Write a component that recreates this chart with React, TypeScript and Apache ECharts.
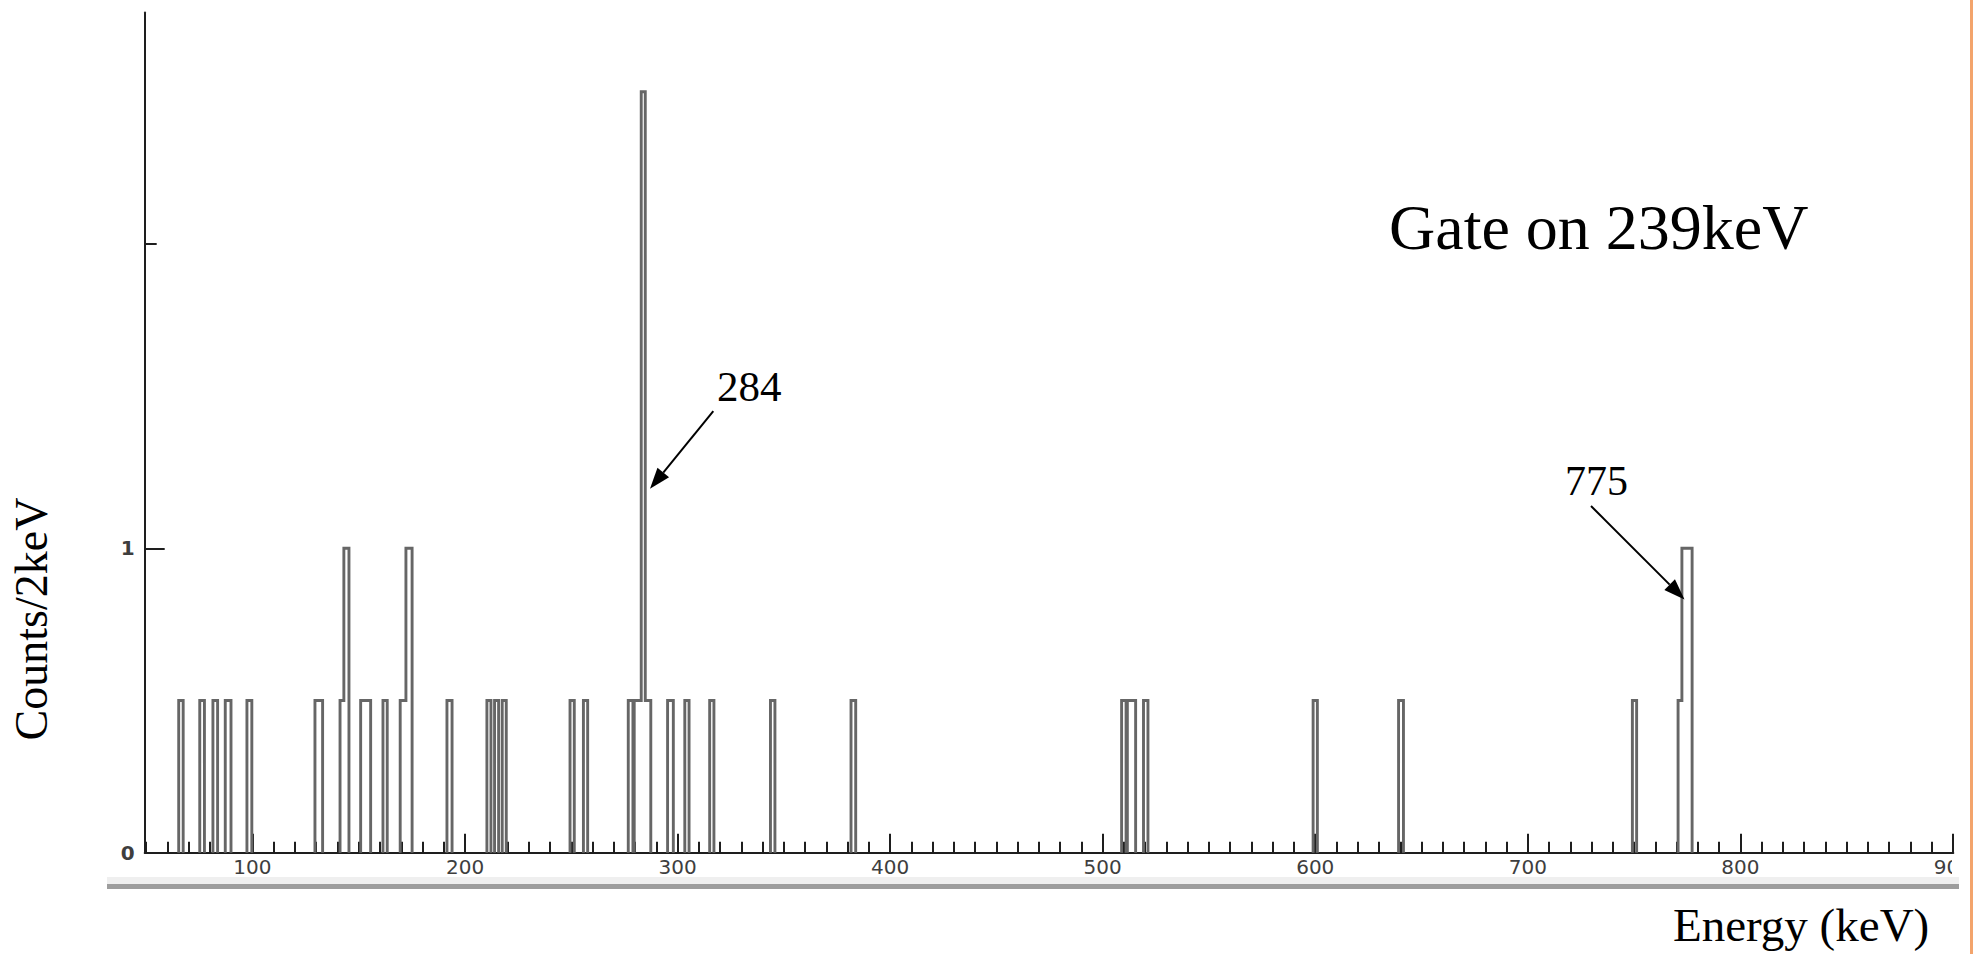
import React, { useEffect, useRef } from "react";
import * as echarts from "echarts";

// Gated gamma-ray coincidence spectrum (gate on 239 keV).
// Each channel group: lower edge (keV), upper edge (keV), height in Counts/2keV units.
const segLo = [
  65.3, 75.2, 81.4, 87.2, 97.4, 129.4, 141.2, 143.0, 150.9, 161.4, 169.5, 172.2,
  191.5, 210.3, 213.9, 217.5, 249.4, 255.7, 276.8, 279.6, 282.9, 284.8, 295.3,
  303.4, 315.1, 343.7, 381.6, 508.9, 511.6, 519.2, 599.0, 639.2, 749.2, 770.7, 772.5,
];
const segHi = [
  67.4, 77.4, 83.6, 89.9, 99.7, 133.0, 143.0, 145.4, 155.6, 163.4, 172.2, 175.1,
  193.9, 212.2, 215.8, 219.4, 251.4, 257.7, 279.0, 282.9, 284.8, 287.4, 298.0,
  305.4, 317.1, 345.8, 383.8, 511.0, 515.5, 521.3, 601.0, 641.5, 751.2, 772.5, 777.3,
];
const segLevel = [
  0.5, 0.5, 0.5, 0.5, 0.5, 0.5, 0.5, 1, 0.5, 0.5, 0.5, 1,
  0.5, 0.5, 0.5, 0.5, 0.5, 0.5, 0.5, 0.5, 2.5, 0.5, 0.5,
  0.5, 0.5, 0.5, 0.5, 0.5, 0.5, 0.5, 0.5, 0.5, 0.5, 0.5, 1,
];

// Axis ranges and ticks
const X_MIN = 49.3;
const X_MAX = 900.2;
const Y_MAX = 2.76;
const majorTicks = [100, 200, 300, 400, 500, 600, 700, 800, 900];
const minorTicks = [
  50, 60, 70, 80, 90, 110, 120, 130, 140, 150, 160, 170, 180, 190, 210, 220, 230, 240,
  250, 260, 270, 280, 290, 310, 320, 330, 340, 350, 360, 370, 380, 390, 410, 420, 430,
  440, 450, 460, 470, 480, 490, 510, 520, 530, 540, 550, 560, 570, 580, 590, 610, 620,
  630, 640, 650, 660, 670, 680, 690, 710, 720, 730, 740, 750, 760, 770, 780, 790, 810,
  820, 830, 840, 850, 860, 870, 880, 890,
];
const yLabelValues = [0, 1];
const yMajorTick = [1];
const yMinorTick = [2];

const SERIF = '"Liberation Serif", "Times New Roman", serif';
const SANS = '"DejaVu Sans", Verdana, sans-serif';

// Histogram outline: step up at each lower edge, across, and back down;
// neighbouring groups that share an edge are joined by a single vertical step.
function buildOutline() {
  const pts: any[] = [];
  for (let i = 0; i < segLo.length; i++) {
    const joined = i > 0 && Math.abs(segLo[i] - segHi[i - 1]) < 1e-6;
    if (!joined) {
      if (i > 0) {
        pts.push([segHi[i - 1], 0]);
        pts.push(["-", "-"]);
      }
      pts.push([segLo[i], 0]);
    }
    pts.push([segLo[i], segLevel[i]]);
    pts.push([segHi[i], segLevel[i]]);
  }
  pts.push([segHi[segHi.length - 1], 0]);
  return pts;
}

function arrow(x1: number, y1: number, x2: number, y2: number, head = 21, half = 7.5) {
  const dx = x2 - x1;
  const dy = y2 - y1;
  const len = Math.hypot(dx, dy);
  const ux = dx / len;
  const uy = dy / len;
  const bx = x2 - ux * head;
  const by = y2 - uy * head;
  return [
    {
      type: "line",
      z: 100,
      shape: { x1, y1, x2: bx, y2: by },
      style: { stroke: "#000", lineWidth: 2 },
    },
    {
      type: "polygon",
      z: 100,
      shape: {
        points: [
          [x2, y2],
          [bx - uy * half, by + ux * half],
          [bx + uy * half, by - ux * half],
        ],
      },
      style: { fill: "#000" },
    },
  ];
}

function label(text: string, x: number, y: number, size: number, extra: any = {}) {
  return {
    type: "text",
    z: 100,
    x,
    y,
    ...extra,
    style: {
      text,
      font: `${size}px ${SERIF}`,
      fill: "#000",
      align: extra.align || "left",
      verticalAlign: "middle",
    },
  };
}

export default function App() {
  const ref = useRef<HTMLDivElement>(null);

  useEffect(() => {
    if (!ref.current) return;
    const chart = echarts.init(ref.current, null, { renderer: "svg" });
    const axisColor = "#1e1e1e";
    const tickLabel = { color: "#3e3e3e", fontSize: 20, fontFamily: SANS };

    chart.setOption({
      animation: false,
      backgroundColor: "#ffffff",
      grid: { left: 144.7, top: 12.6, width: 1813.3, height: 840.1, containLabel: false },
      xAxis: [
        {
          type: "value",
          min: X_MIN,
          max: X_MAX,
          position: "bottom",
          axisLine: { show: true, onZero: false, lineStyle: { color: axisColor, width: 2 } },
          axisTick: {
            show: true,
            inside: true,
            length: 11,
            customValues: minorTicks,
            lineStyle: { color: axisColor, width: 2 },
          },
          axisLabel: { show: false },
          splitLine: { show: false },
        },
        {
          type: "value",
          min: X_MIN,
          max: X_MAX,
          position: "bottom",
          axisLine: { show: false },
          axisTick: {
            show: true,
            inside: true,
            length: 19,
            customValues: majorTicks,
            lineStyle: { color: axisColor, width: 2 },
          },
          axisLabel: { show: true, customValues: majorTicks, margin: 4, ...tickLabel },
          splitLine: { show: false },
        },
      ],
      yAxis: [
        {
          type: "value",
          min: 0,
          max: Y_MAX,
          position: "left",
          axisLine: { show: true, onZero: false, lineStyle: { color: axisColor, width: 2 } },
          axisTick: {
            show: true,
            inside: true,
            length: 20,
            customValues: yMajorTick,
            lineStyle: { color: axisColor, width: 2 },
          },
          axisLabel: {
            show: true,
            customValues: yLabelValues,
            margin: 10,
            fontWeight: "bold",
            ...tickLabel,
          },
          splitLine: { show: false },
        },
        {
          type: "value",
          min: 0,
          max: Y_MAX,
          position: "left",
          axisLine: { show: false },
          axisTick: {
            show: true,
            inside: true,
            length: 12,
            customValues: yMinorTick,
            lineStyle: { color: axisColor, width: 2 },
          },
          axisLabel: { show: false },
          splitLine: { show: false },
        },
      ],
      series: [
        {
          type: "line",
          xAxisIndex: 0,
          yAxisIndex: 0,
          data: buildOutline(),
          showSymbol: false,
          symbol: "none",
          connectNulls: false,
          lineStyle: { color: "#666666", width: 2.9, join: "miter" },
          z: 3,
        },
      ],
      graphic: [
        // frame strip under the tick labels
        { type: "rect", z: 90, shape: { x: 107, y: 877, width: 1852, height: 7 }, style: { fill: "#efefef" } },
        { type: "rect", z: 90, shape: { x: 107, y: 884, width: 1852, height: 5 }, style: { fill: "#9d9d9d" } },
        { type: "rect", z: 95, shape: { x: 1952, y: 855, width: 23, height: 21 }, style: { fill: "#ffffff" } },
        { type: "rect", z: 95, shape: { x: 1959, y: 855, width: 16, height: 40 }, style: { fill: "#ffffff" } },
        {
          type: "line",
          z: 96,
          shape: { x1: 1971.5, y1: 0, x2: 1971.5, y2: 954 },
          style: { stroke: "#f3a46c", lineWidth: 3 },
        },
        label("Gate on 239keV", 1389, 227, 64),
        label("284", 717, 386, 43),
        label("775", 1565, 481, 42),
        label("Energy (keV)", 1673, 925, 47),
        label("Counts/2keV", 31, 619, 46, { rotation: Math.PI / 2, align: "center" }),
        ...arrow(713.3, 411.2, 650, 488.8),
        ...arrow(1591, 506, 1684.5, 599.5),
      ],
    });

    return () => chart.dispose();
  }, []);

  return (
    <div
      ref={ref}
      style={{ position: "absolute", left: 0, top: 0, width: 1975, height: 954, background: "#ffffff" }}
    />
  );
}
